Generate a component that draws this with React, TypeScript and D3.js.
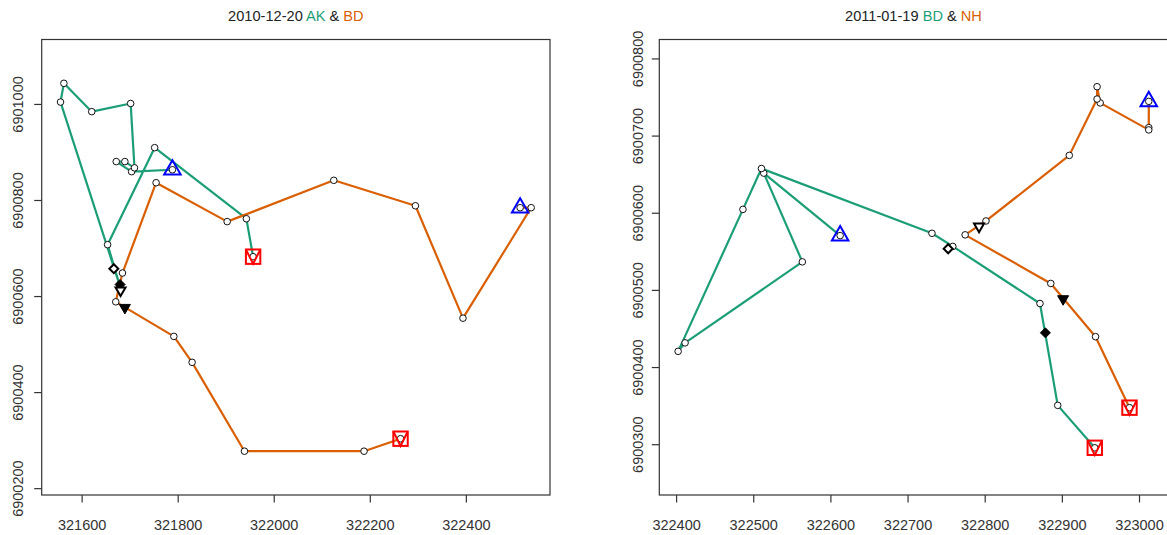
import React from 'react';
import * as d3 from 'd3';

const GREEN = '#1B9E77';
const ORANGE = '#D95F02';
const FONT = '"Liberation Sans", Arial, sans-serif';

// ---- Panel 1: 2010-12-20, AK (green) & BD (orange)
const p1Date = '2010-12-20';
const p1Names = ['AK', 'BD'];
const p1GreenX = [321788, 321703, 321671, 321689, 321709, 321701, 321620, 321562, 321555, 321678, 321653, 321751, 321942, 321956];
const p1GreenY = [6900864, 6900860, 6900881, 6900881, 6900868, 6901002, 6900985, 6901044, 6901005, 6900624, 6900708, 6900910, 6900762, 6900683];
const p1OrangeX = [322512, 322535, 322393, 322294, 322124, 321902, 321754, 321684, 321670, 321791, 321829, 321938, 322187, 322263];
const p1OrangeY = [6900785, 6900785, 6900555, 6900789, 6900842, 6900756, 6900837, 6900649, 6900589, 6900517, 6900463, 6900278, 6900278, 6900304];
const p1XTicks = [321600, 321800, 322000, 322200, 322400];
const p1YTicks = [6900200, 6900400, 6900600, 6900800, 6901000];
const p1OpenDiamond = [321666, 6900658];
const p1FilledDiamond = [321679, 6900625];
const p1OpenDown = [321680, 6900613];
const p1FilledDown = [321689, 6900577];

// ---- Panel 2: 2011-01-19, BD (green) & NH (orange)
const p2Date = '2011-01-19';
const p2Names = ['BD', 'NH'];
const p2GreenX = [322612, 322513, 322563, 322411, 322402, 322486, 322510, 322731, 322758, 322871, 322894, 322942];
const p2GreenY = [6900571, 6900652, 6900537, 6900432, 6900421, 6900605, 6900658, 6900574, 6900557, 6900483, 6900351, 6900296];
const p2OrangeX = [323012, 323012, 323012, 322949, 322945, 322945, 322909, 322801, 322774, 322885, 322943, 322987];
const p2OrangeY = [6900745, 6900711, 6900708, 6900743, 6900764, 6900748, 6900675, 6900590, 6900572, 6900509, 6900440, 6900348];
const p2XTicks = [322400, 322500, 322600, 322700, 322800, 322900, 323000];
const p2YTicks = [6900300, 6900400, 6900500, 6900600, 6900700, 6900800];
const p2OpenDiamond = [322752, 6900554];
const p2FilledDiamond = [322878, 6900445];
const p2OpenDown = [322792, 6900583];
const p2FilledDown = [322901, 6900489];

type PanelProps = {
  left: number; right: number; top: number; bottom: number; boxRight: number;
  ylabX: number;
  date: string; names: string[];
  gx: number[]; gy: number[]; ox: number[]; oy: number[];
  xticks: number[]; yticks: number[];
  openDiamond: number[]; filledDiamond: number[]; openDown: number[]; filledDown: number[];
};

function Panel(p: PanelProps) {
  const allX = [...p.gx, ...p.ox];
  const allY = [...p.gy, ...p.oy];
  const [xmin, xmax] = d3.extent(allX) as [number, number];
  const [ymin, ymax] = d3.extent(allY) as [number, number];
  const pad = (xmax - xmin) * 0.04;
  const x = d3.scaleLinear().domain([xmin - pad, xmax + pad]).range([p.left, p.right]);
  const k = (p.right - p.left) / ((xmax - xmin) * 1.08);
  const cy = (ymin + ymax) / 2;
  const half = (p.bottom - p.top) / 2 / k;
  const y = d3.scaleLinear().domain([cy - half, cy + half]).range([p.bottom, p.top]);

  const line = d3.line<[number, number]>().x(d => x(d[0])).y(d => y(d[1]));
  const gPts: [number, number][] = p.gx.map((v, i) => [v, p.gy[i]]);
  const oPts: [number, number][] = p.ox.map((v, i) => [v, p.oy[i]]);

  const upTri = (cx: number, cyy: number, s: number) => {
    const h = s * Math.sqrt(3) / 2;
    return `M${cx},${cyy - 2 * h / 3}L${cx - s / 2},${cyy + h / 3}L${cx + s / 2},${cyy + h / 3}Z`;
  };
  const downTri = (cx: number, cyy: number, s: number) => {
    const h = s * Math.sqrt(3) / 2;
    return `M${cx - s / 2},${cyy - h / 3}L${cx + s / 2},${cyy - h / 3}L${cx},${cyy + 2 * h / 3}Z`;
  };
  const diamond = (cx: number, cyy: number, r: number) =>
    `M${cx},${cyy - r}L${cx + r},${cyy}L${cx},${cyy + r}L${cx - r},${cyy}Z`;

  const gStart = gPts[0], gEnd = gPts[gPts.length - 1];
  const oStart = oPts[0], oEnd = oPts[oPts.length - 1];
  const sq = 7.2;
  const squareMark = (pt: [number, number], key: string) => {
    const cx = x(pt[0]), cyy = y(pt[1]);
    return (
      <g key={key} fill="none" stroke="#FF0000" strokeWidth={2}>
        <rect x={cx - sq} y={cyy - sq} width={2 * sq} height={2 * sq} />
        <path d={`M${cx - sq},${cyy - sq}L${cx},${cyy + sq}L${cx + sq},${cyy - sq}`} />
      </g>
    );
  };
  const titleX = (p.left + p.right) / 2;

  return (
    <g>
      <text x={titleX} y={20.5} textAnchor="middle" fontFamily={FONT} fontSize={14.6} fill="#222">
        <tspan>{p.date} </tspan>
        <tspan fill={GREEN}>{p.names[0]}</tspan>
        <tspan> &amp; </tspan>
        <tspan fill={ORANGE}>{p.names[1]}</tspan>
      </text>
      {/* box */}
      <rect x={p.left} y={p.top} width={p.boxRight - p.left} height={p.bottom - p.top} fill="none" stroke="#333" strokeWidth={1.2} />
      {/* x axis */}
      {p.xticks.map(t => (
        <g key={'xt' + t}>
          <line x1={x(t)} x2={x(t)} y1={p.bottom} y2={p.bottom + 7.5} stroke="#333" strokeWidth={1.2} />
          <text x={x(t)} y={530} textAnchor="middle" fontFamily={FONT} fontSize={14.5} fill="#333">{t}</text>
        </g>
      ))}
      {/* y axis */}
      {p.yticks.map(t => (
        <g key={'yt' + t}>
          <line x1={p.left - 7.5} x2={p.left} y1={y(t)} y2={y(t)} stroke="#333" strokeWidth={1.2} />
          <text x={0} y={0} transform={`translate(${p.ylabX},${y(t)}) rotate(-90)`} textAnchor="middle" dominantBaseline="central" fontFamily={FONT} fontSize={14.5} fill="#333">{t}</text>
        </g>
      ))}
      {/* tracks */}
      <path d={line(gPts) || ''} fill="none" stroke={GREEN} strokeWidth={2.2} strokeLinejoin="round" />
      <path d={line(oPts) || ''} fill="none" stroke={ORANGE} strokeWidth={2.2} strokeLinejoin="round" />
      {[...gPts, ...oPts].map((pt, i) => (
        <circle key={'c' + i} cx={x(pt[0])} cy={y(pt[1])} r={3.3} fill="#fff" stroke="#111" strokeWidth={1} />
      ))}
      {/* start / end */}
      <path d={upTri(x(gStart[0]), y(gStart[1]), 16.5)} fill="none" stroke="#0000FF" strokeWidth={2} />
      <path d={upTri(x(oStart[0]), y(oStart[1]), 16.5)} fill="none" stroke="#0000FF" strokeWidth={2} />
      {squareMark(gEnd, 'ge')}
      {squareMark(oEnd, 'oe')}
      {/* encounter markers */}
      <path d={diamond(x(p.openDiamond[0]), y(p.openDiamond[1]), 4.5)} fill="#fff" stroke="#000" strokeWidth={2} />
      <path d={diamond(x(p.filledDiamond[0]), y(p.filledDiamond[1]), 5)} fill="#000" stroke="#000" strokeWidth={1} />
      <path d={downTri(x(p.openDown[0]), y(p.openDown[1]), 10)} fill="#fff" stroke="#000" strokeWidth={2} />
      <path d={downTri(x(p.filledDown[0]), y(p.filledDown[1]), 11)} fill="#000" stroke="#000" strokeWidth={1} />
    </g>
  );
}

export default function App() {
  return (
    <svg width={1167} height={535} style={{ position: 'absolute', left: 0, top: 0, background: '#fff' }}>
      <rect x={0} y={0} width={1167} height={535} fill="#fff" />
      <Panel left={41.7} right={550} boxRight={550} top={39.5} bottom={495} ylabX={17.5}
        date={p1Date} names={p1Names}
        gx={p1GreenX} gy={p1GreenY} ox={p1OrangeX} oy={p1OrangeY}
        xticks={p1XTicks} yticks={p1YTicks}
        openDiamond={p1OpenDiamond} filledDiamond={p1FilledDiamond} openDown={p1OpenDown} filledDown={p1FilledDown} />
      <Panel left={659.3} right={1167.6} boxRight={1169} top={39.5} bottom={495} ylabX={638}
        date={p2Date} names={p2Names}
        gx={p2GreenX} gy={p2GreenY} ox={p2OrangeX} oy={p2OrangeY}
        xticks={p2XTicks} yticks={p2YTicks}
        openDiamond={p2OpenDiamond} filledDiamond={p2FilledDiamond} openDown={p2OpenDown} filledDown={p2FilledDown} />
    </svg>
  );
}
